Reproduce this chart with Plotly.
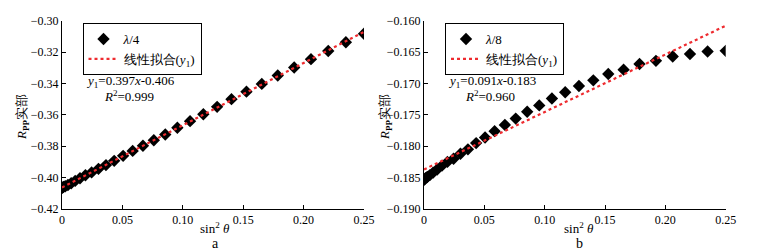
import plotly.graph_objects as go

# sin^2(theta) for theta = 0..30 degrees
x_vals = [0.0, 0.0003, 0.0012, 0.0027, 0.0049, 0.0076, 0.0109, 0.0149, 0.0194, 0.0245,
          0.0302, 0.0364, 0.0432, 0.0506, 0.0585, 0.0670, 0.0760, 0.0855, 0.0955, 0.1060,
          0.1170, 0.1284, 0.1403, 0.1527, 0.1654, 0.1786, 0.1922, 0.2061, 0.2204, 0.2350, 0.2500]

rpp_a = [-0.4065, -0.4064, -0.4060, -0.4055, -0.4047, -0.4036, -0.4021, -0.4004, -0.3985, -0.3967,
         -0.3944, -0.3920, -0.3893, -0.3861, -0.3830, -0.3797, -0.3762, -0.3725, -0.3682, -0.3640,
         -0.3596, -0.3549, -0.3500, -0.3452, -0.3403, -0.3349, -0.3298, -0.3245, -0.3193, -0.3137, -0.3083]

rpp_b = [-0.1853, -0.1853, -0.1851, -0.1849, -0.1846, -0.1842, -0.1837, -0.1831, -0.1825, -0.1820,
         -0.1812, -0.1805, -0.1795, -0.1786, -0.1776, -0.1766, -0.1756, -0.1745, -0.1735, -0.1724,
         -0.1714, -0.1704, -0.1695, -0.1685, -0.1678, -0.1669, -0.1664, -0.1657, -0.1653, -0.1649, -0.1648]

fit_x = [0.0, 0.25]
fit_a = [-0.4063, -0.3071]
fit_b = [-0.1837, -0.1608]

xticks = [0, 0.05, 0.10, 0.15, 0.20, 0.25]
xtick_text = ["0", "0.05", "0.10", "0.15", "0.20", "0.25"]
yticks_a = [-0.42, -0.40, -0.38, -0.36, -0.34, -0.32, -0.30]
yticks_b = [-0.190, -0.185, -0.180, -0.175, -0.170, -0.165, -0.160]

FONT = "Liberation Serif"
RED = "#ee2b2f"

# page body has an 8px margin: figure placed at (8, 8) in the window
OFF = 8
W, H = 760, 244


def px(xp):
    return (xp - OFF) / W


def py(yp):
    return 1 - (yp - OFF) / H


fig = go.Figure()
fig.add_trace(go.Scatter(x=x_vals, y=rpp_a, mode="markers", name="<i>λ</i>/4",
                         marker=dict(symbol="diamond", size=9.5, color="black"),
                         xaxis="x", yaxis="y", legend="legend"))
fig.add_trace(go.Scatter(x=fit_x, y=fit_a, mode="lines", name="线性拟合(<i>y</i><sub>1</sub>)",
                         line=dict(color=RED, width=2.2, dash="dot"),
                         xaxis="x", yaxis="y", legend="legend"))
fig.add_trace(go.Scatter(x=x_vals, y=rpp_b, mode="markers", name="<i>λ</i>/8",
                         marker=dict(symbol="diamond", size=9.5, color="black"),
                         xaxis="x2", yaxis="y2", legend="legend2"))
fig.add_trace(go.Scatter(x=fit_x, y=fit_b, mode="lines", name="线性拟合(<i>y</i><sub>1</sub>)",
                         line=dict(color=RED, width=2.2, dash="dot"),
                         xaxis="x2", yaxis="y2", legend="legend2"))

ydom = [py(209), py(20.7)]
axis_common = dict(showline=True, linecolor="black", linewidth=1, ticks="inside",
                   ticklen=4, tickcolor="black", showgrid=False, zeroline=False,
                   tickfont=dict(family=FONT, size=12, color="black"))

legend_common = dict(bordercolor="black", borderwidth=1, bgcolor="white",
                     font=dict(family=FONT, size=13, color="black"),
                     xanchor="left", yanchor="top", tracegroupgap=0, itemwidth=30)

fig.update_layout(
    width=W, height=H,
    margin=dict(l=0, r=0, t=0, b=0, autoexpand=False),
    paper_bgcolor="white", plot_bgcolor="white",
    font=dict(family=FONT, size=12, color="black"),
    xaxis=dict(domain=[px(62), px(364)], range=[0, 0.25], tickvals=xticks,
               ticktext=xtick_text, anchor="y", **axis_common),
    yaxis=dict(domain=ydom, range=[-0.42, -0.30], tickvals=yticks_a,
               tickformat=".2f", anchor="x", **axis_common),
    xaxis2=dict(domain=[px(424), px(725.7)], range=[0, 0.25], tickvals=xticks,
                ticktext=xtick_text, anchor="y2", **axis_common),
    yaxis2=dict(domain=ydom, range=[-0.19, -0.16], tickvals=yticks_b,
                tickformat=".3f", anchor="x2", **axis_common),
    legend=dict(x=px(82.5), y=py(23), **legend_common),
    legend2=dict(x=px(445), y=py(23), **legend_common),
    showlegend=True,
)

ann_font = dict(family=FONT, size=13, color="black")
annotations = [
    dict(x=px(84), y=py(81), text="<i>y</i><sub>1</sub>=0.397<i>x</i>-0.406"),
    dict(x=px(102), y=py(96), text="<i>R</i><sup>2</sup>=0.999"),
    dict(x=px(446), y=py(81), text="<i>y</i><sub>1</sub>=0.091<i>x</i>-0.183"),
    dict(x=px(463), y=py(96), text="<i>R</i><sup>2</sup>=0.960"),
]
for a in annotations:
    fig.add_annotation(xref="paper", yref="paper", xanchor="left", yanchor="middle",
                       showarrow=False, font=ann_font, **a)

for cx, lab in [(215, "a"), (579, "b")]:
    fig.add_annotation(xref="paper", yref="paper", x=px(cx), y=py(228),
                       text="sin<sup>2</sup> <i>θ</i>", showarrow=False,
                       xanchor="center", yanchor="middle", font=ann_font)
    fig.add_annotation(xref="paper", yref="paper", x=px(cx), y=py(243),
                       text=lab, showarrow=False, xanchor="center", yanchor="middle",
                       font=dict(family=FONT, size=14, color="black"))

for cx in [22, 385]:
    fig.add_annotation(xref="paper", yref="paper", x=px(cx), y=py(117),
                       text="<i>R</i><sub><b>PP</b></sub>实部", textangle=-90,
                       showarrow=False, xanchor="center", yanchor="middle",
                       font=dict(family=FONT, size=13, color="black"))

fig.write_html("out.html")
